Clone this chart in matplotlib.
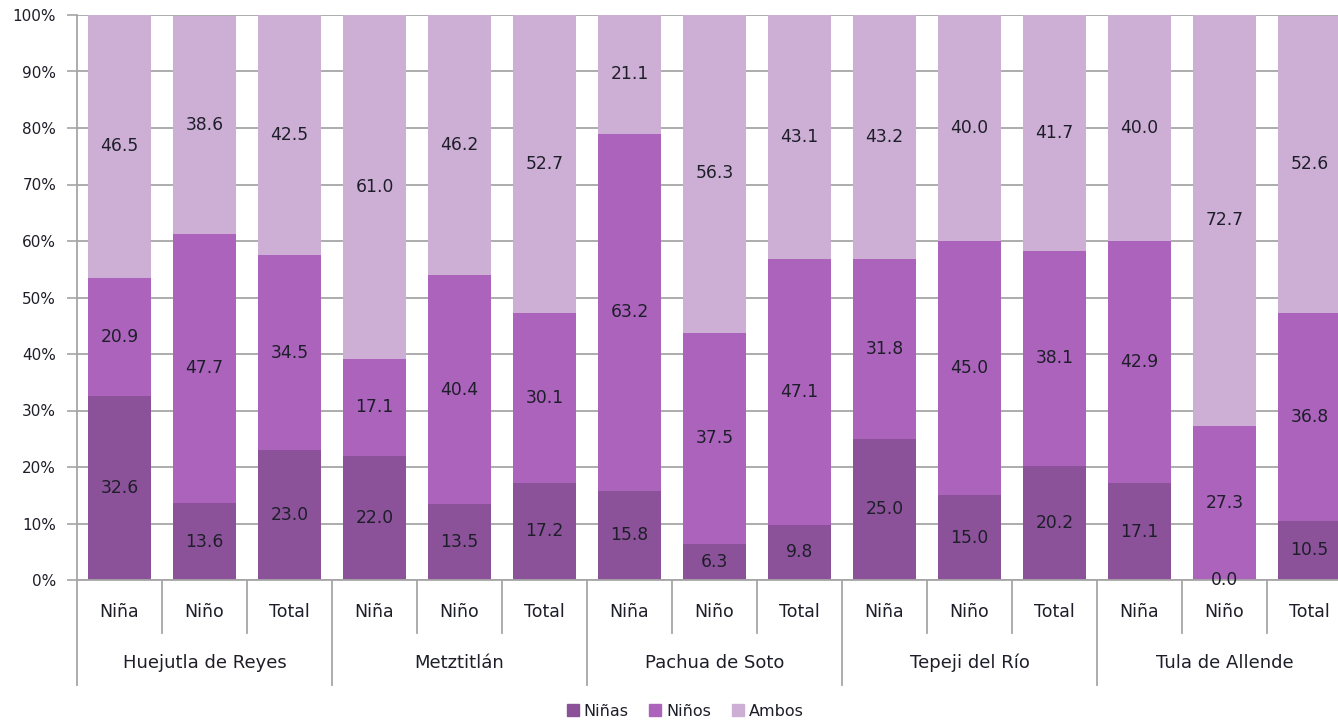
import numpy as np
import matplotlib
matplotlib.use("Agg")
import matplotlib.pyplot as plt
import matplotlib.patches as mpatches

matplotlib.rcParams["font.family"] = "DejaVu Sans"

# Data (percent of each bar)
municipios = ["Huejutla de Reyes", "Metztitlán", "Pachua de Soto", "Tepeji del Río", "Tula de Allende"]
sub_cats = ["Niña", "Niño", "Total"]
series_names = ["Niñas", "Niños", "Ambos"]

ninas = [32.6, 13.6, 23.0, 22.0, 13.5, 17.2, 15.8, 6.3, 9.8, 25.0, 15.0, 20.2, 17.1, 0.0, 10.5]
ninos = [20.9, 47.7, 34.5, 17.1, 40.4, 30.1, 63.2, 37.5, 47.1, 31.8, 45.0, 38.1, 42.9, 27.3, 36.8]
ambos = [46.5, 38.6, 42.5, 61.0, 46.2, 52.7, 21.1, 56.3, 43.1, 43.2, 40.0, 41.7, 40.0, 72.7, 52.6]

COLORS = ["#8b5299", "#ab63bc", "#cdafd6"]
GRID = "#a6a6a6"
TXT = "#1e1e2a"

W, H = 1338, 722
fig = plt.figure(figsize=(W / 100, H / 100), dpi=100)
ax = fig.add_axes([77 / W, (H - 580) / H, 1275 / W, 565 / H])

n = len(ninas)
x = np.arange(n)
bottom = np.zeros(n)
for vals, col in zip([ninas, ninos, ambos], COLORS):
    vals = np.array(vals)
    ax.bar(x, vals, bottom=bottom, width=0.74, color=col, zorder=2)
    for xi, b, v in zip(x, bottom, vals):
        ax.text(xi, b + v / 2, f"{v:.1f}", ha="center", va="center",
                fontsize=12.3, color=TXT, zorder=3)
    bottom += vals

ax.set_xlim(-0.5, n - 0.5)
ax.set_ylim(0, 100)
ax.set_yticks(np.arange(0, 101, 10))
ax.set_yticklabels([f"{v}%" for v in range(0, 101, 10)], fontsize=11, color=TXT)
ax.tick_params(axis="y", length=7, width=1.2, color=GRID, pad=8)
ax.set_xticks([])
ax.yaxis.grid(True, color=GRID, linewidth=1.3)
ax.set_axisbelow(True)
for s in ["top", "right"]:
    ax.spines[s].set_visible(False)
for s in ["left", "bottom"]:
    ax.spines[s].set_color(GRID)
    ax.spines[s].set_linewidth(1.3)

# Two-level category axis
tr = ax.get_xaxis_transform()
cat_y = -(612 - 580) / 565
grp_y = -(663 - 580) / 565
short_end = -(633 - 580) / 565
long_end = -(685 - 580) / 565
for i in range(n):
    ax.text(i, cat_y, sub_cats[i % 3], transform=tr, ha="center", va="center",
            fontsize=12.5, color=TXT)
for k in range(n + 1):
    end = long_end if k % 3 == 0 else short_end
    ax.plot([k - 0.5, k - 0.5], [0, end], transform=tr, color=GRID,
            linewidth=1.3, clip_on=False)
for g, name in enumerate(municipios):
    ax.text(g * 3 + 1, grp_y, name, transform=tr, ha="center", va="center",
            fontsize=13, color=TXT)

handles = [mpatches.Patch(color=c, label=l) for c, l in zip(COLORS, series_names)]
fig.legend(handles=handles, loc="center", bbox_to_anchor=(0.512, 1 - 711 / H), ncol=3,
           frameon=False, fontsize=11.5, handlelength=0.75, handleheight=0.75,
           handletextpad=0.3, columnspacing=1.3, labelcolor=TXT)

fig.savefig("out.png", dpi=100)
